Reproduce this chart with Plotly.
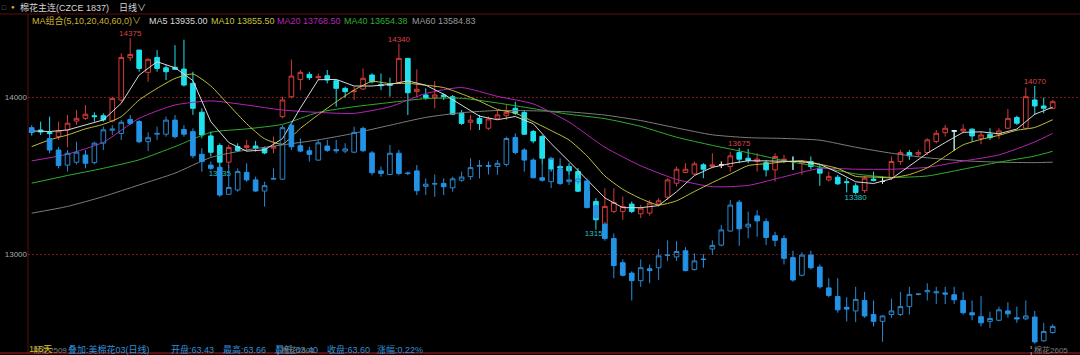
import plotly.graph_objects as go

# ---------------- data ----------------
idx = list(range(115))

main_open = [13790,13790,13775,13748,13790,13847,13864,13881,13881,13847,
             13981,14250,14299,14157,14252,14186,14189,14178,14087,13903,
             13752,13691,13585,13684,13678,13688,13674,13674,13875,14002,
             14112,14144,14123,14136,14104,14055,14034,14051,14140,14080,
             14083,14093,14246,14034,14013,13998,14013,14002,13896,13839,
             13864,13801,13864,13881,13928,13902,13780,13748,13604,13557,
             13557,13525,13400,13335,13186,13271,13271,13318,13256,13261,
             13318,13362,13451,13519,13510,13568,13557,13568,13557,13646,
             13610,13589,13582,13536,13595,13589,13578,13589,13547,13472,
             13489,13460,13434,13404,13477,13462,13483,13589,13646,13636,
             13646,13716,13773,13784,13784,13795,13737,13763,13763,13801,
             13869,13801,13981,13943,13928]
main_high = [13805,13843,13875,13843,13886,13917,13949,13902,13896,14002,
             14278,14375,14299,14246,14299,14203,14330,14365,14161,13928,
             13780,13705,13695,13705,13727,13720,13684,13748,14002,14239,
             14172,14161,14150,14172,14108,14066,14066,14182,14150,14150,
             14123,14340,14246,14176,14055,14102,14023,14013,13917,13886,
             13886,13875,13917,13949,13970,13917,13790,13758,13610,13568,
             13578,13547,13420,13356,13419,13419,13366,13335,13313,13345,
             13356,13483,13557,13578,13589,13578,13642,13589,13652,13675,
             13669,13642,13600,13642,13631,13621,13600,13621,13568,13525,
             13504,13483,13451,13498,13525,13493,13621,13663,13663,13663,
             13737,13790,13822,13790,13826,13801,13780,13801,13801,13924,
             13881,14060,14070,13996,13981]
main_low = [13755,13758,13737,13727,13680,13822,13854,13843,13843,13839,
            13970,14229,14161,14097,14161,14108,14172,14066,13886,13737,
            13621,13535,13547,13652,13652,13652,13636,13642,13864,13991,
            14044,14108,14108,14087,13938,13996,13981,14044,14087,14044,
            14002,14087,13885,14002,13981,13928,13981,13886,13822,13790,
            13790,13790,13854,13854,13886,13758,13705,13568,13525,13515,
            13504,13395,13330,13155,13180,13260,13218,13260,13229,13244,
            13303,13345,13430,13515,13504,13483,13546,13547,13525,13578,
            13578,13525,13494,13462,13578,13536,13504,13540,13434,13462,
            13440,13392,13380,13388,13462,13447,13472,13568,13600,13621,
            13631,13705,13748,13657,13769,13716,13699,13727,13733,13797,
            13822,13797,13886,13896,13924]
main_close = [13775,13777,13767,13784,13833,13864,13890,13875,13854,13991,
              14252,14271,14182,14240,14182,14161,14176,14076,13928,13758,
              13648,13585,13678,13659,13690,13674,13644,13684,13981,14133,
              14157,14123,14129,14108,14055,14034,14038,14119,14097,14072,
              14074,14246,14027,14049,13996,14013,14002,13890,13832,13853,
              13832,13860,13886,13902,13896,13763,13720,13610,13542,13547,
              13530,13400,13340,13218,13303,13328,13303,13271,13292,13324,
              13339,13472,13540,13540,13574,13540,13568,13568,13625,13604,
              13595,13604,13536,13621,13604,13589,13589,13557,13515,13493,
              13447,13455,13392,13483,13468,13462,13589,13646,13625,13646,
              13727,13769,13801,13784,13795,13752,13758,13741,13784,13864,
              13833,14002,13943,13928,13970]

# US cotton 03 overlay (None = no session that day)
us_open = [69.12,None,68.82,68.50,68.08,68.16,68.36,68.15,68.69,69.05,
           68.96,69.35,69.29,68.73,68.94,68.94,69.33,69.07,69.01,68.38,
           68.08,68.02,67.27,67.39,67.88,67.67,67.36,67.69,67.69,69.19,
           68.62,68.48,68.22,68.61,68.51,68.47,68.44,69.10,68.42,67.92,
           67.82,68.41,67.86,67.92,67.49,67.55,67.57,67.45,67.66,67.76,
           68.05,68.07,68.04,68.10,68.85,68.50,68.22,67.73,67.62,67.97,
           67.62,67.62,67.64,66.95,66.44,66.04,65.37,65.08,64.87,65.20,
           65.23,65.57,65.53,65.70,65.18,65.47,65.75,65.86,66.25,67.05,
           66.36,66.67,66.51,66.12,66.04,65.51,65.02,65.58,65.25,64.67,
           64.43,64.13,64.03,64.32,63.93,63.74,63.93,63.93,64.15,64.49,
           64.56,64.53,64.53,64.48,64.32,63.98,63.87,63.74,63.77,64.03,
           63.84,63.81,63.86,63.20,63.43]
us_high = [69.19,None,68.92,68.58,68.50,68.73,68.50,68.73,69.15,69.19,
           69.33,69.47,69.33,68.99,69.15,69.43,69.47,69.19,69.10,68.55,
           68.18,68.08,68.08,67.99,68.13,67.76,67.62,67.99,69.19,69.29,
           68.82,68.59,68.78,68.78,68.78,68.69,69.15,69.15,68.47,68.04,
           68.64,68.50,67.90,68.08,67.71,67.82,67.71,67.76,67.90,68.27,
           68.22,68.18,68.22,68.87,68.96,68.55,68.27,68.08,68.31,68.27,
           68.08,67.80,67.71,67.00,66.50,66.18,65.46,65.13,65.46,65.32,
           65.75,65.99,65.97,65.80,65.63,65.61,65.99,66.42,67.11,67.11,
           66.79,66.83,66.60,66.23,66.13,65.70,65.66,65.70,65.32,64.94,
           64.94,64.41,64.70,64.56,64.32,63.91,64.37,64.56,64.70,64.51,
           64.80,64.70,64.70,64.70,64.56,64.32,64.44,64.01,64.15,64.27,
           64.15,64.32,64.03,63.70,63.66]
us_low = [68.92,None,68.41,67.99,67.90,68.10,67.99,68.10,68.50,68.92,
          68.78,69.19,68.69,68.47,68.78,68.87,68.82,68.87,68.27,67.90,
          67.94,67.20,67.25,67.34,67.62,67.34,66.93,67.67,67.67,68.50,
          68.44,68.18,68.20,68.45,68.41,68.41,68.41,68.45,67.80,67.76,
          67.80,67.80,67.80,67.25,67.25,67.20,67.25,67.34,67.62,67.67,
          67.71,67.82,67.81,68.04,68.38,67.90,67.71,67.62,67.44,67.53,
          67.53,67.55,66.88,66.58,65.98,64.94,64.99,64.32,64.70,64.80,
          64.89,65.42,65.42,65.13,65.15,65.23,65.59,65.82,66.23,65.84,
          66.05,66.09,65.86,65.82,65.32,64.84,64.99,65.18,64.65,64.41,
          63.98,63.74,63.72,63.84,63.60,63.17,63.84,63.89,63.93,64.46,
          64.32,64.22,64.22,64.22,63.93,63.77,63.60,63.55,63.74,63.84,
          63.70,63.77,63.12,63.17,63.40]
us_close = [68.99,None,68.50,68.07,68.41,68.44,68.13,68.69,69.06,69.08,
            69.27,69.24,68.73,68.84,68.96,69.33,68.87,68.94,68.34,68.18,
            67.99,67.25,67.46,67.90,67.67,67.36,67.51,67.71,69.12,68.59,
            68.47,68.38,68.70,68.49,68.48,68.53,68.99,68.48,67.87,67.85,
            68.41,67.85,67.85,67.37,67.55,67.57,67.48,67.70,67.75,68.01,
            68.07,68.05,68.13,68.82,68.43,68.22,67.73,67.66,68.27,67.57,
            67.67,67.70,66.90,66.62,66.04,65.29,65.02,64.87,65.23,65.15,
            65.56,65.58,65.68,65.15,65.42,65.46,65.85,66.28,66.97,66.31,
            66.44,66.53,66.07,65.99,65.49,64.89,65.58,65.23,64.70,64.46,
            64.06,64.08,64.35,63.89,63.74,63.89,64.03,64.15,64.49,64.50,
            64.60,64.56,64.50,64.34,63.98,63.92,63.70,63.82,64.06,63.95,
            63.81,63.89,63.17,63.46,63.60]

# moving averages
ma_fast_idx = list(range(0, 115, 2))
ma5 = [13784,13780,13790,13822,13854,13960,14140,14225,14186,14105,
       13843,13710,13655,13663,13735,13930,14110,14112,14070,14070,
       14080,14103,14075,14018,13948,13878,13855,13876,13830,13703,
       13590,13474,13357,13295,13295,13308,13396,13500,13552,13576,
       13594,13593,13592,13588,13571,13520,13460,13449,13479,13558,
       13642,13710,13775,13778,13766,13796,13890,13935.00]
ma10 = [13684,13727,13758,13797,13826,13875,13981,14055,14118,14146,
        14070,13950,13830,13734,13700,13800,13887,13969,14044,14099,
        14085,14087,14075,14060,14020,13974,13921,13897,13843,13786,
        13726,13625,13497,13412,13353,13312,13339,13398,13455,13509,
        13563,13575,13587,13594,13572,13545,13495,13490,13486,13506,
        13549,13622,13695,13730,13756,13788,13806,13855.50]
ma_slow_idx = list(range(0, 113, 4)) + [114]
ma20 = [13593,13636,13712,13864,13949,13975,13949,13917,13902,13896,
        13938,14022,14060,14004,13956,13840,13680,13562,13475,13429,
        13437,13492,13545,13540,13540,13552,13592,13631,13714,13768.50]
ma40 = [13451,13500,13546,13600,13684,13775,13797,13826,13902,13938,
        13965,13990,13992,13962,13926,13890,13862,13813,13744,13692,
        13645,13595,13555,13510,13488,13497,13540,13585,13624,13654.38]
ma60 = [13260,13303,13366,13440,13515,13615,13663,13695,13727,13769,
        13820,13870,13900,13914,13912,13905,13885,13850,13803,13759,
        13741,13736,13725,13680,13642,13613,13594,13585,13582,13584.83]

high_marks = [11, 41, 79, 112]
low_marks = [21, 63, 92]
roll_marks = [(27.5, "棉花2601"), (111.6, "棉花2605")]
first_contract = "棉花2509"
ytick_vals = [13000, 14000]
day_count = 115

# ---------------- style ----------------
BG = "#000000"
FONT = "Liberation Sans, Arial, Noto Sans CJK SC"
UP = "#d43a3a"
DOWN = "#20e0ee"
US_UP = "#2a86cc"
US_DOWN = "#2393e6"
MA_COL = {"MA5": "#d8d8d8", "MA10": "#c2c23c", "MA20": "#b624b6",
          "MA40": "#2fae2f", "MA60": "#7c7c7c"}

W, H = 1080, 355
ML, MR, MT, MB = 28, 0, 14, 2
PW, PH = W - ML - MR, H - MT - MB


def px(xp):
    return (xp - ML) / PW


def py(yp):
    return (H - MB - yp) / PH


fig = go.Figure()

fig.add_trace(go.Candlestick(
    x=idx, open=main_open, high=main_high, low=main_low, close=main_close,
    increasing=dict(line=dict(color=UP, width=1), fillcolor="rgba(0,0,0,0)"),
    decreasing=dict(line=dict(color=DOWN, width=1), fillcolor=DOWN),
    whiskerwidth=0, hoverinfo="skip", showlegend=False))

doji = [i for i in idx if main_open[i] == main_close[i]]
fig.add_trace(go.Candlestick(
    x=doji, open=[main_open[i] for i in doji], high=[main_high[i] for i in doji],
    low=[main_low[i] for i in doji], close=[main_close[i] for i in doji],
    increasing=dict(line=dict(color="#e8e8e8", width=1), fillcolor="#e8e8e8"),
    decreasing=dict(line=dict(color="#e8e8e8", width=1), fillcolor="#e8e8e8"),
    whiskerwidth=0, hoverinfo="skip", showlegend=False))

for name, xs, ys, shape in [("MA60", ma_slow_idx, ma60, "spline"),
                            ("MA40", ma_slow_idx, ma40, "spline"),
                            ("MA20", ma_slow_idx, ma20, "spline"),
                            ("MA10", ma_fast_idx, ma10, "spline"),
                            ("MA5", ma_fast_idx, ma5, "linear")]:
    fig.add_trace(go.Scatter(x=xs, y=ys, mode="lines",
                             line=dict(color=MA_COL[name], width=1, shape=shape, smoothing=0.6),
                             hoverinfo="skip", showlegend=False))

fig.add_trace(go.Scatter(
    x=high_marks, y=[main_high[i] for i in high_marks],
    text=[str(main_high[i]) for i in high_marks], mode="text",
    textposition="top center", textfont=dict(color="#dc4444", size=8, family=FONT),
    hoverinfo="skip", showlegend=False))
fig.add_trace(go.Scatter(
    x=low_marks, y=[main_low[i] for i in low_marks],
    text=[str(main_low[i]) for i in low_marks], mode="text",
    textposition="bottom center", textfont=dict(color="#22c4c4", size=8, family=FONT),
    hoverinfo="skip", showlegend=False))

fig.add_trace(go.Candlestick(
    x=idx, open=us_open, high=us_high, low=us_low, close=us_close, yaxis="y2",
    increasing=dict(line=dict(color=US_UP, width=1), fillcolor="rgba(0,0,0,0)"),
    decreasing=dict(line=dict(color=US_DOWN, width=1), fillcolor=US_DOWN),
    whiskerwidth=0, hoverinfo="skip", showlegend=False))

# ---------------- texts ----------------
ann = []


def txt(x, y, s, color, size=9, anchor="left"):
    ann.append(dict(x=px(x), y=py(y), xref="paper", yref="paper", text=s,
                    showarrow=False, xanchor=anchor, yanchor="middle",
                    font=dict(color=color, size=size, family=FONT)))


txt(0, 7, "□", "#8a8a8a", 7)
txt(9, 7, "●", "#e0b800", 6)
txt(18, 7, "棉花主连(CZCE 1837)", "#d6d6d6", 9)
txt(117, 7, "日线∨", "#d6d6d6", 9)
txt(30, 21, "MA组合(5,10,20,40,60,0)∨", "#c8b432", 9)
for name, xpos, series in [("MA5", 147, ma5), ("MA10", 209, ma10), ("MA20", 275, ma20),
                           ("MA40", 342, ma40), ("MA60", 410, ma60)]:
    txt(xpos, 21, f"{name} {series[-1]:.2f}", MA_COL[name] if name != "MA60" else "#9a9a9a", 9)

last = [i for i in idx if us_close[i] is not None][-1]
prev = [i for i in idx if us_close[i] is not None and i < last][-1]
chg = (us_close[last] - us_close[prev]) / us_close[prev] * 100
txt(31, 350, first_contract, "#7e7e7e", 8)
txt(27, 349, f"{day_count}天", "#d4c000", 9)
BLUE_T = "#2f8fd8"
txt(66, 349, "叠加:美棉花03(日线)", BLUE_T, 9)
txt(169, 349, f"开盘:{us_open[last]:.2f}", BLUE_T, 9)
txt(221, 349, f"最高:{us_high[last]:.2f}", BLUE_T, 9)
txt(273, 349, f"最低:{us_low[last]:.2f}", BLUE_T, 9)
txt(325, 349, f"收盘:{us_close[last]:.2f}", BLUE_T, 9)
txt(375, 349, f"涨幅:{chg:.2f}%", BLUE_T, 9)

shapes = [
    dict(type="line", xref="paper", yref="paper", x0=px(0), x1=1, y0=1, y1=1,
         line=dict(color="#5c1010", width=1)),
    dict(type="line", xref="paper", yref="paper", x0=0, x1=0, y0=0, y1=1,
         line=dict(color="#5c1010", width=1)),
    dict(type="line", xref="paper", yref="paper", x0=px(0), x1=1, y0=0, y1=0,
         line=dict(color="#b01c1c", width=1)),
]
for xr, label in roll_marks:
    shapes.append(dict(type="line", xref="x", yref="paper", x0=xr, x1=xr,
                       y0=py(355), y1=py(345), line=dict(color="#9a9a9a", width=1, dash="dot")))
    ann.append(dict(x=xr, y=py(350), xref="x", yref="paper", text=label, showarrow=False,
                    xanchor="left", yanchor="middle", xshift=1,
                    font=dict(color="#7e7e7e", size=8, family=FONT)))

# axis ranges from pixel calibration (14000 -> y97, 13000 -> y254)
ppu = (254 - 97) / 1000.0
y_top = 14000 + (97 - MT) / ppu
y_bot = 14000 - (H - MB - 97) / ppu
us_ppu = 36.0
us_top = 63.60 + (326.4 - MT) / us_ppu
us_bot = 63.60 - (H - MB - 326.4) / us_ppu
x0 = (ML - 31.7) / 8.956
x1 = (W - 31.7) / 8.956

fig.update_layout(
    width=W, height=H, margin=dict(l=ML, r=MR, t=MT, b=MB, pad=0),
    paper_bgcolor=BG, plot_bgcolor=BG, hovermode=False, showlegend=False,
    boxgap=0.26,
    xaxis=dict(range=[x0, x1], showgrid=False, zeroline=False, showticklabels=False,
               showline=False, rangeslider=dict(visible=False), fixedrange=True),
    yaxis=dict(range=[y_bot, y_top], tickvals=ytick_vals, ticktext=[str(v) for v in ytick_vals],
               tickfont=dict(color="#a8a8a8", size=8, family=FONT), ticks="",
               showgrid=True, gridcolor="#781818", griddash="2px,2px", gridwidth=1,
               zeroline=False, showline=False, fixedrange=True),
    yaxis2=dict(range=[us_bot, us_top], overlaying="y", side="right", visible=False,
                showgrid=False, zeroline=False, fixedrange=True),
    annotations=ann, shapes=shapes,
)

fig.write_html("out.html")
